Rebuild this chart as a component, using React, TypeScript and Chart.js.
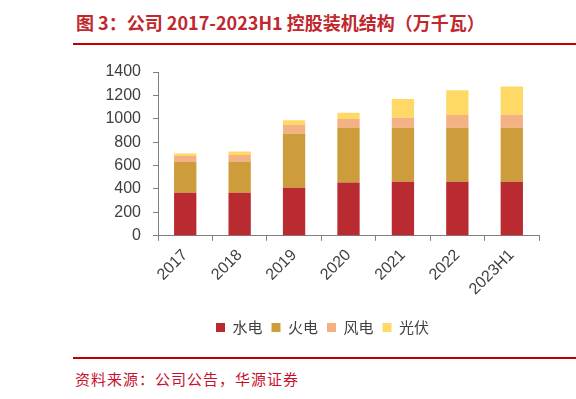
import React, { useEffect, useRef } from "react";
import { Chart, registerables } from "chart.js";

Chart.register(...registerables);

const categories = ["2017", "2018", "2019", "2020", "2021", "2022", "2023H1"];
const hydro = [368, 368, 410, 456, 462, 462, 462];
const thermal = [262, 262, 462, 465, 462, 462, 462];
const wind = [51, 60, 75, 77, 85, 108, 111];
const solar = [23, 31, 40, 54, 160, 211, 242];
const yTicks = [0, 200, 400, 600, 800, 1000, 1200, 1400];

const seriesNames = ["水电", "火电", "风电", "光伏"];
const seriesColors = ["#B92B30", "#CC9D3A", "#F4B183", "#FFD966"];

export default function App() {
  const ref = useRef<HTMLCanvasElement | null>(null);

  useEffect(() => {
    if (!ref.current) return;
    const values = [hydro, thermal, wind, solar];
    const chart = new Chart(ref.current, {
      type: "bar",
      data: {
        labels: categories,
        datasets: values.map((v, i) => ({
          label: seriesNames[i],
          data: v,
          backgroundColor: seriesColors[i],
          borderWidth: 0,
          barPercentage: 0.41,
          categoryPercentage: 1,
        })),
      },
      options: {
        animation: false,
        responsive: false,
        maintainAspectRatio: false,
        layout: { padding: { left: 26, right: 37, top: 0, bottom: 0 } },
        plugins: {
          legend: {
            position: "bottom",
            labels: {
              boxWidth: 9,
              boxHeight: 9,
              padding: 9,
              color: "#404040",
              font: { family: "'Noto Sans CJK SC', sans-serif", size: 15 },
            },
          },
          tooltip: { enabled: false },
        },
        scales: {
          x: {
            stacked: true,
            afterFit: (s: any) => {
              s.height += 7;
              s.paddingLeft = 0;
              s.paddingRight = 0;
            },
            grid: {
              drawOnChartArea: false,
              drawTicks: true,
              tickLength: 5,
              color: "#808080",
            },
            border: { color: "#808080", width: 1 },
            ticks: {
              color: "#404040",
              font: { family: "'Liberation Sans', Arial, sans-serif", size: 16 },
              minRotation: 45,
              maxRotation: 45,
              padding: 5,
              autoSkip: false,
            },
          },
          y: {
            stacked: true,
            min: 0,
            max: 1400,
            afterBuildTicks: (s: any) => {
              s.ticks = yTicks.map((v) => ({ value: v }));
            },
            afterFit: (s: any) => {
              s.width = 52;
              s.paddingTop = 12;
              s.paddingBottom = 8;
            },
            grid: {
              drawOnChartArea: false,
              drawTicks: true,
              tickLength: 5,
              color: "#808080",
            },
            border: { color: "#808080", width: 1 },
            ticks: {
              color: "#404040",
              font: { family: "'Liberation Sans', Arial, sans-serif", size: 16 },
              padding: 12,
              autoSkip: false,
              callback: (v: any) => String(v),
            },
          },
        },
      },
    });
    return () => chart.destroy();
  }, []);

  return (
    <div style={{ position: "fixed", left: 0, top: 0, width: 576, height: 399, background: "#fff", overflow: "hidden" }}>
      <div
        style={{
          position: "absolute",
          left: 76,
          top: 9,
          fontFamily: "'Noto Sans CJK SC', sans-serif",
          fontWeight: 700,
          fontSize: 18,
          lineHeight: "26px",
          color: "#C0282E",
          whiteSpace: "nowrap",
        }}
      >
        图 3：公司 2017-2023H1 控股装机结构（万千瓦）
      </div>
      <div style={{ position: "absolute", left: 73, top: 43, width: 503, height: 2, background: "#C00000" }} />
      <canvas
        ref={ref}
        width={496}
        height={285}
        style={{ position: "absolute", left: 80, top: 60, width: 496, height: 285 }}
      />
      <div style={{ position: "absolute", left: 73, top: 357, width: 503, height: 2, background: "#C00000" }} />
      <div
        style={{
          position: "absolute",
          left: 75,
          top: 368,
          fontFamily: "'Noto Sans CJK SC', sans-serif",
          fontSize: 15,
          lineHeight: "22px",
          letterSpacing: 1,
          color: "#C8102E",
          whiteSpace: "nowrap",
        }}
      >
        资料来源：公司公告，华源证券
      </div>
    </div>
  );
}
